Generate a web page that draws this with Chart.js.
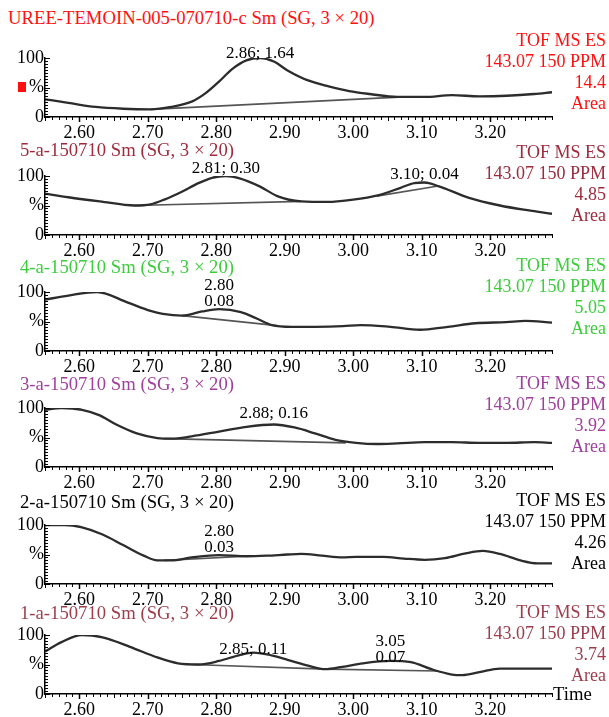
<!DOCTYPE html>
<html>
<head>
<meta charset="utf-8">
<script src="https://cdn.jsdelivr.net/npm/chart.js@4.4.1/dist/chart.umd.min.js"></script>
<style>
  body { margin: 0; background: #fff; width: 609px; height: 717px; position: relative; overflow: hidden;
         font-family: "Liberation Serif", "Times New Roman", serif; }
  canvas { position: absolute; left: 0; }
  .ttl { position: absolute; font-size: 18.7px; line-height: 20px; white-space: nowrap; }
  .side { position: absolute; right: 3px; text-align: right; font-size: 18px; line-height: 20px; white-space: nowrap; }
</style>
</head>
<body>
<script>
// sample names, trace colours and integrated areas
const titles = [
  "UREE-TEMOIN-005-070710-c Sm (SG, 3 \u00d7 20)",
  "5-a-150710 Sm (SG, 3 \u00d7 20)",
  "4-a-150710 Sm (SG, 3 \u00d7 20)",
  "3-a-150710 Sm (SG, 3 \u00d7 20)",
  "2-a-150710 Sm (SG, 3 \u00d7 20)",
  "1-a-150710 Sm (SG, 3 \u00d7 20)"
];
const colors = ["#ff1010", "#9e2a3c", "#3ccc3c", "#a0409c", "#000000", "#9e3c4c"];
const areas = ["14.4", "4.85", "5.05", "3.92", "4.26", "3.74"];
const xLabels = ["2.60", "2.70", "2.80", "2.90", "3.00", "3.10", "3.20"];

// retention time (min) / relative intensity (%)
const t1 = [2.546, 2.58, 2.62, 2.66, 2.70, 2.73, 2.76, 2.78, 2.80, 2.82, 2.84, 2.86, 2.88, 2.90, 2.93, 2.96, 2.99, 3.02, 3.06, 3.10, 3.14, 3.18, 3.22, 3.26, 3.286];
const y1 = [30, 24, 17, 14, 13, 17, 26, 40, 60, 82, 96, 100, 94, 79, 62, 52, 44, 39, 34, 34, 37, 35, 36, 39, 42];
const t2 = [2.546, 2.58, 2.626, 2.677, 2.70, 2.72, 2.745, 2.77, 2.79, 2.81, 2.83, 2.86, 2.885, 2.92, 2.96, 2.99, 3.035, 3.065, 3.085, 3.10, 3.12, 3.165, 3.21, 3.25, 3.286];
const y2 = [70, 64, 57, 50, 52, 60, 73, 88, 97, 100, 96, 82, 66, 57, 56, 59, 68, 80, 88, 89, 83, 63, 50, 42, 36];
const t3 = [2.546, 2.58, 2.622, 2.667, 2.70, 2.718, 2.746, 2.775, 2.80, 2.832, 2.855, 2.877, 2.906, 2.94, 2.981, 3.006, 3.05, 3.093, 3.134, 3.174, 3.219, 3.247, 3.286];
const y3 = [87, 94, 100, 82, 68, 63, 60, 67, 71, 66, 55, 44, 41, 41, 42, 44, 41, 36, 41, 47, 49, 51, 48];
const t4 = [2.546, 2.57, 2.60, 2.625, 2.65, 2.68, 2.71, 2.73, 2.76, 2.80, 2.84, 2.88, 2.91, 2.94, 2.97, 3.00, 3.03, 3.06, 3.10, 3.14, 3.18, 3.22, 3.26, 3.286];
const y4 = [97, 100, 97, 88, 72, 57, 49, 48, 52, 60, 68, 72, 67, 57, 46, 41, 39, 40, 42, 42, 41, 41, 42, 41];
const t5 = [2.546, 2.575, 2.60, 2.63, 2.66, 2.69, 2.71, 2.73, 2.76, 2.80, 2.84, 2.87, 2.90, 2.92, 2.95, 2.98, 3.00, 3.04, 3.07, 3.10, 3.13, 3.16, 3.185, 3.21, 3.24, 3.265, 3.286];
const y5 = [100, 100, 96, 84, 66, 48, 40, 40, 45, 49, 47, 48, 50, 51, 48, 45, 46, 46, 43, 41, 44, 52, 56, 51, 40, 35, 35];
const t6 = [2.546, 2.57, 2.60, 2.63, 2.67, 2.71, 2.74, 2.77, 2.80, 2.83, 2.85, 2.87, 2.90, 2.93, 2.955, 2.98, 3.01, 3.05, 3.08, 3.11, 3.14, 3.155, 3.18, 3.21, 3.25, 3.286];
const y6 = [72, 88, 100, 96, 80, 62, 52, 50, 56, 66, 70, 67, 58, 48, 42, 46, 52, 56, 54, 42, 33, 32, 37, 43, 43, 43];

// integration baselines: [t0, y0, t1, y1]
const base1 = [[2.70, 13, 3.07, 34]];
const base2 = [[2.677, 50, 2.92, 57], [3.03, 66, 3.12, 83]];
const base3 = [[2.746, 60, 2.885, 43]];
const base4 = [[2.72, 48, 2.985, 41]];
const base5 = [[2.72, 40, 2.84, 47]];
const base6 = [[2.76, 50, 2.955, 42], [2.955, 42, 3.12, 39]];

// peak annotations: [rt, area, lines]
const pk1 = [[2.86, "1.64", 1]];
const pk2 = [[2.81, "0.30", 1], [3.10, "0.04", 1]];
const pk3 = [[2.80, "0.08", 2]];
const pk4 = [[2.88, "0.16", 1]];
const pk5 = [[2.80, "0.03", 2]];
const pk6 = [[2.85, "0.11", 1], [3.05, "0.07", 2]];

const traces = [[t1, y1], [t2, y2], [t3, y3], [t4, y4], [t5, y5], [t6, y6]];
const baselines = [base1, base2, base3, base4, base5, base6];
const peaks = [pk1, pk2, pk3, pk4, pk5, pk6];

// page layout
const plotBottom = [117, 235, 351, 467, 584, 694];
const titleY = [18, 150, 267, 384, 502, 613];
const titleX = [8, 20, 20, 20, 20, 20];
const sideY = [40, 152, 265, 383, 500, 612];
const labelLift = [1, 4, 4, 8, 4, 0];
const PLOT_H = 59, PAD_T = 24, AXIS_H = 24, LEFT = 45;
const X_MIN = 2.546, X_MAX = 3.286;
const FONT = '"Liberation Serif", "Times New Roman", serif';

function valueAt(t, ts, ys) {
  for (let k = 1; k < ts.length; k++) {
    if (t <= ts[k]) {
      const f = (t - ts[k - 1]) / (ts[k] - ts[k - 1]);
      return ys[k - 1] + f * (ys[k] - ys[k - 1]);
    }
  }
  return ys[ys.length - 1];
}

// small ruler marks along both axes
const rulerTicks = {
  id: 'rulerTicks',
  afterDraw(chart) {
    const { ctx, chartArea: a, scales: { x, y } } = chart;
    ctx.save();
    ctx.strokeStyle = '#000';
    x.ticks.forEach(tk => {
      const h = Math.round(tk.value * 100);
      const len = h % 10 === 0 ? 5 : (h % 5 === 0 ? 4 : 3);
      const px = Math.round(x.getPixelForValue(tk.value)) + 0.5;
      ctx.lineWidth = h % 10 === 0 ? 1.5 : 1;
      ctx.beginPath();
      ctx.moveTo(px, a.bottom);
      ctx.lineTo(px, a.bottom + len);
      ctx.stroke();
    });
    y.ticks.forEach(tk => {
      const len = tk.value % 50 === 0 ? 5 : 3;
      const py = Math.round(y.getPixelForValue(tk.value)) + 0.5;
      ctx.lineWidth = 1;
      ctx.beginPath();
      ctx.moveTo(a.left, py);
      ctx.lineTo(a.left + len, py);
      ctx.stroke();
    });
    ctx.restore();
  }
};

// "rt; area" text above each integrated peak
const peakText = {
  id: 'peakText',
  afterDraw(chart, args, opts) {
    const { ctx, scales: { x, y } } = chart;
    ctx.save();
    ctx.fillStyle = '#000';
    ctx.font = '17px ' + FONT;
    ctx.textAlign = 'center';
    ctx.textBaseline = 'alphabetic';
    opts.peaks.forEach(([t, area, lines]) => {
      const px = x.getPixelForValue(t);
      const py = y.getPixelForValue(valueAt(t, opts.ts, opts.ys)) + 1 - opts.lift;
      if (lines === 2) {
        ctx.fillText(t.toFixed(2), px, py - 16);
        ctx.fillText(area, px, py);
      } else {
        ctx.fillText(t.toFixed(2) + '; ' + area, px, py);
      }
    });
    ctx.restore();
  }
};

function addText(cls, txt, color, top, left) {
  const d = document.createElement('div');
  d.className = cls;
  d.textContent = txt;
  d.style.color = color;
  d.style.top = top + 'px';
  if (left !== undefined) d.style.left = left + 'px';
  document.body.appendChild(d);
}

for (let i = 0; i < 6; i++) {
  const [ts, ys] = traces[i];
  const cv = document.createElement('canvas');
  cv.width = 562;
  cv.height = PAD_T + PLOT_H + AXIS_H;
  cv.style.top = (plotBottom[i] - PLOT_H - PAD_T) + 'px';
  document.body.appendChild(cv);

  const datasets = [{
    data: ts.map((t, k) => ({ x: t, y: ys[k] })),
    borderColor: '#2c2c2c',
    borderWidth: 2.3,
    pointRadius: 0,
    cubicInterpolationMode: 'monotone'
  }];
  baselines[i].forEach(s => datasets.push({
    data: [{ x: s[0], y: s[1] }, { x: s[2], y: s[3] }],
    borderColor: '#555',
    borderWidth: 1.7,
    pointRadius: 0
  }));

  new Chart(cv, {
    type: 'line',
    data: { datasets },
    options: {
      responsive: false,
      animation: false,
      events: [],
      layout: { padding: { top: PAD_T, right: 10, left: 0, bottom: 0 } },
      plugins: {
        legend: { display: false },
        tooltip: { enabled: false },
        peakText: { peaks: peaks[i], ts, ys, lift: labelLift[i] }
      },
      scales: {
        x: {
          type: 'linear',
          min: X_MIN,
          max: X_MAX,
          afterFit(s) { s.height = AXIS_H; },
          border: { display: true, color: '#000', width: 1.5 },
          grid: { display: false, drawTicks: false },
          ticks: {
            stepSize: 0.01,
            autoSkip: false,
            maxRotation: 0,
            includeBounds: false,
            padding: 5,
            color: '#000',
            font: { family: FONT, size: 18 },
            callback(v) {
              const s = v.toFixed(2);
              return xLabels.includes(s) ? s : '';
            }
          }
        },
        y: {
          min: 0,
          max: 100,
          afterFit(s) { s.width = LEFT; },
          border: { display: true, color: '#000', width: 1.5 },
          grid: { display: false, drawTicks: false },
          ticks: {
            stepSize: 5,
            autoSkip: false,
            padding: 1,
            color: '#000',
            font: { family: FONT, size: 18 },
            callback(v) {
              if (v === 100) return '100';
              if (v === 50) return '%';
              if (v === 0) return '0';
              return '';
            }
          }
        }
      }
    },
    plugins: [rulerTicks, peakText]
  });

  addText('ttl', titles[i], colors[i], titleY[i] - 10, titleX[i]);
  ['TOF MS ES', '143.07 150 PPM', areas[i], 'Area'].forEach((s, k) =>
    addText('side', s, colors[i], sideY[i] - 10 + k * 21));
}

// time axis caption and trace marker
addText('ttl', 'Time', '#000', plotBottom[5] - 10, 553);
const mark = document.createElement('div');
mark.style.cssText = 'position:absolute;left:18px;top:82px;width:8px;height:10px;background:#ff1010';
document.body.appendChild(mark);
</script>
</body>
</html>
